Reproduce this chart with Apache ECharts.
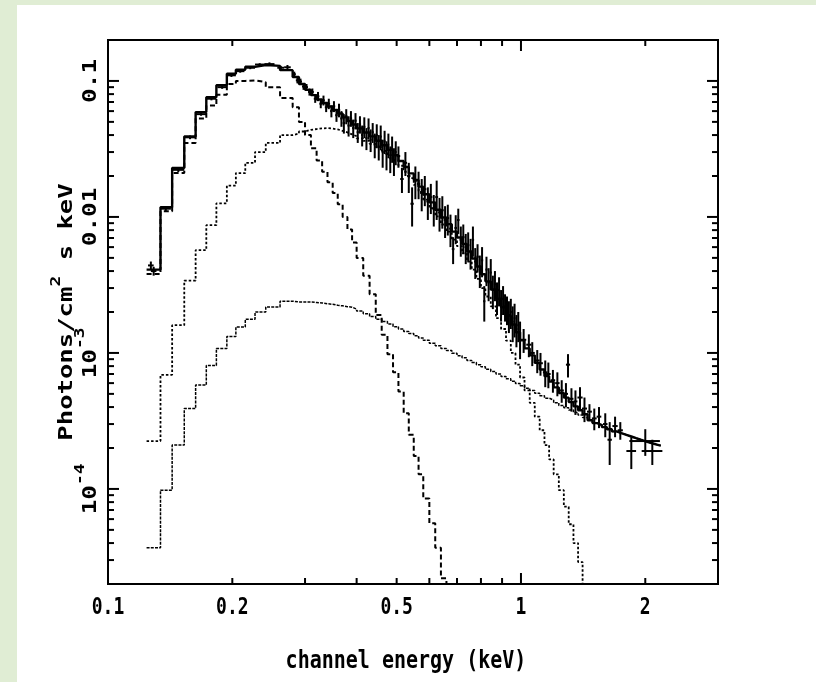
<!DOCTYPE html>
<html><head><meta charset="utf-8">
<script src="https://cdn.jsdelivr.net/npm/echarts@6/dist/echarts.min.js"></script>
<style>
html,body{margin:0;padding:0;width:816px;height:682px;background:#e0edd4;overflow:hidden}
#chart{position:absolute;left:17px;top:5px;width:799px;height:677px;background:#fff}
</style></head><body><div id="chart"></div>
<script>
// ---- axis ranges ----
const X_MIN = 0.1, X_MAX = 3, Y_MIN = 2e-5, Y_MAX = 0.2;

// ---- tick values / labels ----
const xTicks = [0.2, 0.3, 0.4, 0.5, 0.6, 0.7, 0.8, 0.9, 1, 2];
const xMajorTicks = [1];
const xLabelValues = [0.1, 0.2, 0.5, 1, 2];
const xLabelTexts = ['0.1', '0.2', '0.5', '1', '2'];
const yTicks = [3e-5, 4e-5, 5e-5, 6e-5, 7e-5, 8e-5, 9e-5, 1e-4,
  2e-4, 3e-4, 4e-4, 5e-4, 6e-4, 7e-4, 8e-4, 9e-4, 1e-3,
  2e-3, 3e-3, 4e-3, 5e-3, 6e-3, 7e-3, 8e-3, 9e-3, 0.01,
  0.02, 0.03, 0.04, 0.05, 0.06, 0.07, 0.08, 0.09, 0.1];
const yMajorTicks = [1e-4, 1e-3, 0.01, 0.1];
const yLabelValues = [0.1, 0.01, 0.001, 0.0001];
const yLabelTexts = ['{b|0.1}', '{b|0.01}', '{b|10}{s|-3}', '{b|10}{s|-4}'];
const xTitle = 'channel energy (keV)';
const yTitle = '{a|Photons/cm}{s|2}{a| s keV}';

// ---- model channel bin edges (keV) ----
const binEdges = [0.124, 0.134, 0.143, 0.153, 0.163, 0.173, 0.183, 0.194, 0.204, 0.215, 0.227, 0.241, 0.261, 0.28,
  0.29, 0.30, 0.31, 0.32, 0.33, 0.34, 0.35, 0.36, 0.37, 0.38, 0.39, 0.40,
  0.415, 0.43, 0.445, 0.46, 0.475, 0.49, 0.505, 0.52, 0.535, 0.55, 0.565, 0.58,
  0.60, 0.62, 0.64, 0.66, 0.68, 0.70, 0.72, 0.74, 0.76, 0.78, 0.80, 0.82,
  0.845, 0.87, 0.895, 0.92, 0.945, 0.97, 0.995, 1.02,
  1.05, 1.08, 1.11, 1.14, 1.17, 1.20,
  1.235, 1.27, 1.305, 1.34, 1.375, 1.41,
  1.45, 1.49, 1.53, 1.57,
  1.615, 1.66, 1.705, 1.75,
  1.80, 1.85, 1.90, 1.95,
  2.005, 2.06, 2.12, 2.18];

// total model (solid)
const totalModel = [0.0041, 0.0118, 0.0229, 0.039, 0.059, 0.076, 0.093, 0.113, 0.121, 0.127, 0.131, 0.129, 0.12,
  0.107, 0.095, 0.086, 0.0787, 0.0731, 0.0688, 0.0649, 0.0612, 0.0576, 0.054, 0.0508, 0.0478,
  0.0448, 0.0418, 0.0391, 0.0363, 0.0337, 0.0311, 0.0285, 0.0258, 0.0233, 0.0209, 0.0187, 0.0167,
  0.0147, 0.0128, 0.0113, 0.0099, 0.00885, 0.0078, 0.00706, 0.00632, 0.00558, 0.00495, 0.00432, 0.00379,
  0.00336, 0.00293, 0.0025, 0.00217, 0.00188, 0.00162, 0.00142, 0.00124,
  0.00108, 0.00096, 0.000845, 0.000755, 0.000675, 0.000615,
  0.000558, 0.000508, 0.000469, 0.000435, 0.000405, 0.000379,
  0.000354, 0.00032, 0.000305, 0.000295,
  0.000285, 0.000275, 0.000265, 0.000257,
  0.00025, 0.000243, 0.000236, 0.00023,
  0.000224, 0.000218, 0.000213, 0.000208];

// soft component (dashed)
const softComp = [0.0038, 0.011, 0.021, 0.035, 0.053, 0.066, 0.079, 0.095, 0.100, 0.101, 0.098, 0.090, 0.075,
  0.064, 0.050, 0.040, 0.032, 0.026, 0.0215, 0.018, 0.015, 0.0124, 0.010, 0.0081, 0.0065,
  0.005, 0.0037, 0.0027, 0.0019, 0.00136, 0.00098, 0.00072, 0.00052, 0.00036, 0.00025, 0.000175, 0.000128,
  0.000085, 0.000056, 0.000037, 0.000022, 0.000012];

// medium component (dotted)
const mediumComp = [2.25e-4, 6.9e-4, 1.6e-3, 3.4e-3, 5.7e-3, 8.7e-3, 0.0126, 0.017, 0.021, 0.025, 0.030, 0.035, 0.040,
  0.041, 0.0425, 0.0437, 0.0443, 0.0448, 0.045, 0.0446, 0.044, 0.043, 0.0418, 0.0405, 0.0392,
  0.0378, 0.0362, 0.0345, 0.0326, 0.0306, 0.0285, 0.0262, 0.0238, 0.0215, 0.0193, 0.0172, 0.0153,
  0.0134, 0.0116, 0.0101, 0.0088, 0.0078, 0.0068, 0.0061, 0.0054, 0.0047, 0.0041, 0.0035, 0.0030,
  0.0026, 0.0022, 0.0018, 0.0015, 0.00123, 0.001, 0.00082, 0.00066,
  0.00053, 0.00043, 0.00034, 0.00027, 0.00021, 0.000165,
  0.000128, 0.000098, 0.000074, 0.000055, 0.00004, 0.000029, 0.000019];

// hard power-law component (fine dotted)
const hardComp = [3.7e-5, 9.8e-5, 2.1e-4, 3.9e-4, 5.8e-4, 8.1e-4, 1.08e-3, 1.32e-3, 1.55e-3, 1.77e-3, 2.0e-3, 2.18e-3, 2.4e-3,
  2.37e-3, 2.37e-3, 2.37e-3, 2.35e-3, 2.33e-3, 2.3e-3, 2.28e-3, 2.24e-3, 2.22e-3, 2.19e-3, 2.17e-3, 2.1e-3,
  2.03e-3, 1.94e-3, 1.85e-3, 1.77e-3, 1.7e-3, 1.63e-3, 1.56e-3, 1.5e-3, 1.44e-3, 1.39e-3, 1.34e-3, 1.29e-3,
  1.24e-3, 1.18e-3, 1.13e-3, 1.08e-3, 1.04e-3, 9.95e-4, 9.55e-4, 9.2e-4, 8.8e-4, 8.5e-4, 8.2e-4, 7.9e-4,
  7.6e-4, 7.3e-4, 7.0e-4, 6.7e-4, 6.45e-4, 6.2e-4, 5.95e-4, 5.75e-4,
  5.5e-4, 5.3e-4, 5.05e-4, 4.85e-4, 4.65e-4, 4.5e-4,
  4.3e-4, 4.1e-4, 3.95e-4, 3.8e-4, 3.65e-4, 3.5e-4,
  3.35e-4, 3.2e-4, 3.05e-4, 2.95e-4,
  2.85e-4, 2.75e-4, 2.65e-4, 2.57e-4,
  2.5e-4, 2.43e-4, 2.36e-4, 2.3e-4,
  2.24e-4, 2.18e-4, 2.13e-4, 2.08e-4];

// ---- observed data: [energy, flux, fluxErr, energyHalfWidth] ----
const dataLow = [[0.127, 0.0044, 0.0003, 0.002], [0.129, 0.0040, 0.0003, 0.002], [0.138, 0.0115, 0.0005, 0.004],
  [0.148, 0.0222, 0.0008, 0.005], [0.158, 0.0385, 0.0012, 0.005], [0.168, 0.057, 0.0015, 0.005],
  [0.178, 0.074, 0.002, 0.005], [0.189, 0.090, 0.0025, 0.005], [0.199, 0.110, 0.003, 0.005],
  [0.209, 0.118, 0.003, 0.005], [0.221, 0.125, 0.003, 0.006], [0.233, 0.132, 0.003, 0.006],
  [0.246, 0.133, 0.004, 0.007], [0.262, 0.125, 0.004, 0.005], [0.272, 0.126, 0.005, 0.005]];
const dataMid = [[0.2825, 0.112, 0.005, 0.0025], [0.2875, 0.101, 0.005, 0.0025], [0.2925, 0.099, 0.005, 0.0025],
  [0.2975, 0.091, 0.005, 0.0025], [0.3025, 0.090, 0.005, 0.0025], [0.3075, 0.083, 0.005, 0.0025],
  [0.3125, 0.083, 0.005, 0.0025], [0.3175, 0.074, 0.005, 0.0025], [0.3225, 0.077, 0.006, 0.0025],
  [0.3275, 0.068, 0.005, 0.0025], [0.3325, 0.072, 0.006, 0.0025], [0.3375, 0.064, 0.005, 0.0025],
  [0.3425, 0.068, 0.006, 0.0025], [0.3475, 0.060, 0.006, 0.0025], [0.3525, 0.065, 0.006, 0.0025],
  [0.3575, 0.056, 0.006, 0.0025], [0.3625, 0.061, 0.007, 0.0025], [0.3675, 0.053, 0.007, 0.0025],
  [0.3725, 0.049, 0.008, 0.0025], [0.3775, 0.055, 0.007, 0.0025], [0.3825, 0.047, 0.008, 0.0025],
  [0.3875, 0.053, 0.007, 0.0025], [0.3925, 0.045, 0.007, 0.0025], [0.3975, 0.051, 0.007, 0.0025],
  [0.4025, 0.042, 0.007, 0.0025], [0.4075, 0.048, 0.007, 0.0025], [0.4125, 0.040, 0.007, 0.0025],
  [0.4175, 0.046, 0.008, 0.0025], [0.4225, 0.038, 0.007, 0.0025], [0.4275, 0.045, 0.008, 0.0025],
  [0.4325, 0.037, 0.007, 0.0025], [0.4375, 0.042, 0.007, 0.0025], [0.4425, 0.034, 0.007, 0.0025],
  [0.4475, 0.040, 0.008, 0.0025], [0.4525, 0.033, 0.007, 0.0025], [0.4575, 0.039, 0.008, 0.0025],
  [0.4625, 0.030, 0.007, 0.0025], [0.4675, 0.036, 0.007, 0.0025], [0.4725, 0.029, 0.007, 0.0025],
  [0.4775, 0.034, 0.007, 0.0025], [0.4825, 0.027, 0.006, 0.0025], [0.4875, 0.032, 0.007, 0.0025],
  [0.4925, 0.026, 0.006, 0.0025], [0.4975, 0.030, 0.006, 0.0025]];
const dataHigh = [[0.505, 0.028, 0.005, 0.005], [0.515, 0.019, 0.004, 0.005], [0.525, 0.025, 0.005, 0.005],
  [0.535, 0.020, 0.005, 0.005], [0.545, 0.0125, 0.004, 0.005], [0.555, 0.0185, 0.005, 0.005],
  [0.565, 0.0175, 0.004, 0.005], [0.575, 0.0150, 0.004, 0.005], [0.585, 0.0160, 0.004, 0.005],
  [0.595, 0.0130, 0.0035, 0.005], [0.605, 0.0140, 0.0035, 0.005], [0.615, 0.0115, 0.003, 0.005],
  [0.625, 0.0140, 0.0045, 0.005], [0.635, 0.0108, 0.003, 0.005], [0.645, 0.0112, 0.003, 0.005],
  [0.655, 0.0095, 0.0025, 0.005], [0.665, 0.0098, 0.0025, 0.005], [0.675, 0.0082, 0.0022, 0.005],
  [0.685, 0.0058, 0.0013, 0.005], [0.695, 0.0083, 0.002, 0.005], [0.705, 0.0095, 0.002, 0.005],
  [0.715, 0.0068, 0.0017, 0.005], [0.725, 0.0071, 0.0017, 0.005], [0.735, 0.0060, 0.0015, 0.005],
  [0.745, 0.0062, 0.0015, 0.005], [0.755, 0.0055, 0.0014, 0.005], [0.765, 0.0068, 0.0017, 0.005],
  [0.775, 0.0047, 0.0012, 0.005], [0.785, 0.0051, 0.0012, 0.005], [0.795, 0.0041, 0.0011, 0.005],
  [0.805, 0.0048, 0.0012, 0.005], [0.815, 0.0024, 0.0007, 0.005], [0.825, 0.0041, 0.001, 0.005],
  [0.835, 0.0033, 0.0009, 0.005], [0.845, 0.0039, 0.001, 0.005], [0.855, 0.0029, 0.0008, 0.005],
  [0.865, 0.0032, 0.0008, 0.005], [0.875, 0.0026, 0.0007, 0.005], [0.885, 0.0029, 0.0007, 0.005],
  [0.895, 0.0023, 0.0006, 0.005], [0.905, 0.0025, 0.0006, 0.005], [0.915, 0.0022, 0.0005, 0.005],
  [0.925, 0.0021, 0.0005, 0.005], [0.935, 0.0019, 0.0005, 0.005], [0.945, 0.0020, 0.0005, 0.005],
  [0.955, 0.0017, 0.0005, 0.005], [0.965, 0.0018, 0.0005, 0.005], [0.975, 0.0015, 0.0004, 0.005],
  [0.985, 0.0016, 0.0004, 0.005], [0.995, 0.0013, 0.0004, 0.005]];
const dataTail = [[1.015, 0.00125, 0.00025, 0.015], [1.045, 0.00115, 0.00022, 0.015], [1.065, 0.00100, 0.0002, 0.015],
  [1.095, 0.00088, 0.00017, 0.015], [1.115, 0.00084, 0.00016, 0.015], [1.145, 0.00072, 0.00016, 0.015],
  [1.165, 0.00070, 0.00015, 0.015], [1.195, 0.00063, 0.00012, 0.015], [1.225, 0.00060, 0.00012, 0.015],
  [1.255, 0.00053, 0.0001, 0.015], [1.285, 0.00050, 0.0001, 0.015], [1.300, 0.00082, 0.00016, 0.015],
  [1.325, 0.00046, 0.00009, 0.015], [1.355, 0.00044, 0.00009, 0.015], [1.39, 0.00047, 0.00009, 0.02],
  [1.425, 0.00039, 0.00008, 0.02], [1.465, 0.00037, 0.00005, 0.02], [1.505, 0.00033, 0.00006, 0.02],
  [1.545, 0.00034, 0.00006, 0.02], [1.60, 0.00030, 0.00006, 0.02], [1.64, 0.00023, 0.00008, 0.02],
  [1.69, 0.00029, 0.00005, 0.025], [1.74, 0.00027, 0.00004, 0.025], [1.85, 0.00019, 0.00005, 0.05],
  [2.00, 0.000225, 0.00005, 0.17], [2.08, 0.00019, 0.00004, 0.12]];

// ---- helpers ----
const FONT = '"DejaVu Sans Mono", "Liberation Mono", monospace';
const STRETCH = 1.28;   // scanned text is taller than wide
function histogram(values) {
  const pts = values.map((v, i) => [binEdges[i], v]);
  pts.push([binEdges[values.length], values[values.length - 1]]);
  return pts;
}
function stepSeries(name, values, lineType, width) {
  return {
    name, type: 'line', step: 'end', symbol: 'none', clip: true,
    data: histogram(values),
    lineStyle: { color: '#000', width, type: lineType },
    z: 2
  };
}
const blackLine = { stroke: '#000', lineWidth: 2 };
const richDef = {
  a: { fontFamily: FONT, fontWeight: 'bold', fontSize: 20, fill: '#000', lineHeight: 28, verticalAlign: 'bottom' },
  b: { fontFamily: FONT, fontWeight: 'bold', fontSize: 19, fill: '#000', lineHeight: 28, verticalAlign: 'bottom' },
  s: { fontFamily: FONT, fontWeight: 'bold', fontSize: 14, fill: '#000', verticalAlign: 'top' }
};

const chart = echarts.init(document.getElementById('chart'), null, { renderer: 'canvas' });
chart.setOption({
  animation: false,
  backgroundColor: '#fff',
  grid: { left: 91, top: 35, width: 610, height: 544, show: true, borderColor: '#000', borderWidth: 2, backgroundColor: 'transparent' },
  xAxis: {
    type: 'log', logBase: 10, min: X_MIN, max: X_MAX,
    axisLine: { show: false }, axisTick: { show: false }, axisLabel: { show: false }, splitLine: { show: false }
  },
  yAxis: {
    type: 'log', logBase: 10, min: Y_MIN, max: Y_MAX,
    axisLine: { show: false }, axisTick: { show: false }, axisLabel: { show: false }, splitLine: { show: false }
  },
  series: [
    stepSeries('hard', hardComp, [3, 1.2], 1.5),
    stepSeries('medium', mediumComp, [2.5, 2], 1.8),
    stepSeries('soft', softComp, [5, 3], 2),
    stepSeries('total', totalModel, 'solid', 2.4),
    {
      name: 'data', type: 'custom', coordinateSystem: 'cartesian2d', z: 4,
      data: dataLow.concat(dataMid, dataHigh, dataTail),
      encode: { x: 0, y: 1 },
      renderItem: function (params, api) {
        const e = api.value(0), v = api.value(1), dv = api.value(2), de = api.value(3);
        const l = api.coord([e - de, v]), r = api.coord([e + de, v]);
        const b = api.coord([e, v - dv]), t = api.coord([e, v + dv]);
        const st = { stroke: '#000', lineWidth: 2 };
        return { type: 'group', children: [
          { type: 'line', shape: { x1: l[0], y1: l[1], x2: r[0], y2: r[1] }, style: st },
          { type: 'line', shape: { x1: b[0], y1: b[1], x2: t[0], y2: t[1] }, style: st }
        ] };
      }
    },
    {
      name: 'xticks', type: 'custom', coordinateSystem: 'cartesian2d', z: 5, silent: true,
      data: xTicks.map(v => [v, Y_MIN, xMajorTicks.includes(v) ? 1 : 0]),
      encode: { x: 0, y: 1 },
      renderItem: function (params, api) {
        const cs = params.coordSys;
        const x = api.coord([api.value(0), Y_MIN])[0];
        const len = api.value(2) ? 11 : 6;
        return { type: 'group', children: [
          { type: 'line', shape: { x1: x, y1: cs.y + cs.height, x2: x, y2: cs.y + cs.height - len }, style: blackLine },
          { type: 'line', shape: { x1: x, y1: cs.y, x2: x, y2: cs.y + len }, style: blackLine }
        ] };
      }
    },
    {
      name: 'yticks', type: 'custom', coordinateSystem: 'cartesian2d', z: 5, silent: true,
      data: yTicks.map(v => [X_MIN, v, yMajorTicks.includes(v) ? 1 : 0]),
      encode: { x: 0, y: 1 },
      renderItem: function (params, api) {
        const cs = params.coordSys;
        const y = api.coord([X_MIN, api.value(1)])[1];
        const len = api.value(2) ? 11 : 6;
        return { type: 'group', children: [
          { type: 'line', shape: { x1: cs.x, y1: y, x2: cs.x + len, y2: y }, style: blackLine },
          { type: 'line', shape: { x1: cs.x + cs.width, y1: y, x2: cs.x + cs.width - len, y2: y }, style: blackLine }
        ] };
      }
    },
    {
      name: 'xlabels', type: 'custom', coordinateSystem: 'cartesian2d', z: 5, silent: true,
      data: xLabelValues.map(v => [v, Y_MIN]),
      encode: { x: 0, y: 1 },
      renderItem: function (params, api) {
        const cs = params.coordSys;
        const x = api.coord([api.value(0), Y_MIN])[0];
        return { type: 'text', x: x, y: cs.y + cs.height + 24, scaleY: STRETCH,
          style: { text: xLabelTexts[params.dataIndex], fontFamily: FONT, fontWeight: 'bold', fontSize: 18, fill: '#000', align: 'center', verticalAlign: 'middle' } };
      }
    },
    {
      name: 'ylabels', type: 'custom', coordinateSystem: 'cartesian2d', z: 5, silent: true,
      data: yLabelValues.map(v => [X_MIN, v]),
      encode: { x: 0, y: 1 },
      renderItem: function (params, api) {
        const cs = params.coordSys;
        const y = api.coord([X_MIN, api.value(1)])[1];
        return { type: 'text', x: cs.x - 21, y: y, rotation: Math.PI / 2, scaleX: STRETCH,
          style: { text: yLabelTexts[params.dataIndex], fill: '#000', align: 'center', verticalAlign: 'middle', rich: richDef } };
      }
    },
    {
      name: 'titles', type: 'custom', coordinateSystem: 'cartesian2d', z: 5, silent: true,
      data: [[X_MIN, Y_MIN]],
      encode: { x: 0, y: 1 },
      renderItem: function (params, api) {
        const cs = params.coordSys;
        return { type: 'group', children: [
          { type: 'text', x: cs.x + cs.width / 2 - 7, y: cs.y + cs.height + 77, scaleY: STRETCH,
            style: { text: xTitle, fontFamily: FONT, fontWeight: 'bold', fontSize: 20, fill: '#000', align: 'center', verticalAlign: 'middle' } },
          { type: 'text', x: cs.x - 45, y: cs.y + cs.height / 2, rotation: Math.PI / 2, scaleX: STRETCH,
            style: { text: yTitle, fill: '#000', align: 'center', verticalAlign: 'middle', rich: richDef } }
        ] };
      }
    }
  ]
});
</script></body></html>
